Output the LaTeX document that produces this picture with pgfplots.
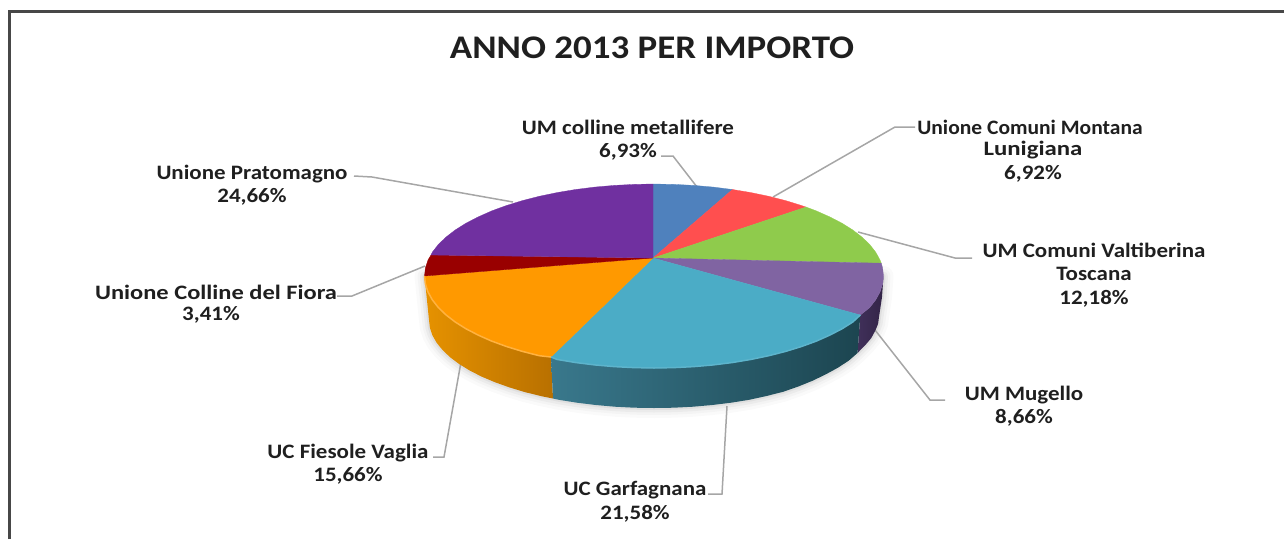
\documentclass[border=0pt]{standalone}
\usepackage{pgfplots}
\pgfplotsset{compat=1.18}
\usepackage{pgfplotstable}
\usepackage{fontspec}
\setmainfont{Carlito}
\definecolor{cblue}{HTML}{4F81BD}
\definecolor{cred}{HTML}{FF4F4F}
\definecolor{cgreen}{HTML}{8FCB4C}
\definecolor{cviol}{HTML}{8064A2}
\definecolor{cteal}{HTML}{4BACC6}
\definecolor{corange}{HTML}{FF9900}
\definecolor{cdark}{HTML}{990000}
\definecolor{cpurp}{HTML}{7030A0}
\definecolor{leader}{HTML}{A6A6A6}
\definecolor{labeltext}{HTML}{1F1F1F}
\definecolor{tealL}{HTML}{39788C}
\definecolor{tealM}{HTML}{235462}
\definecolor{tealR}{HTML}{1C4550}
\definecolor{orL}{HTML}{E69200}
\definecolor{orM}{HTML}{D88A00}
\definecolor{orR}{HTML}{B87000}
\definecolor{vioL}{HTML}{40305A}
\definecolor{vioR}{HTML}{332447}
\tikzset{lab/.style={font=\fontsize{20.5}{21}\selectfont\bfseries,text=labeltext,align=center,inner sep=0pt,xscale=1.12,transform shape}}
\pgfplotstableread{
x y
424.5 276
429 320
429.9 327.7
432.4 335.3
436.7 342.8
442.6 350.1
450.1 357.2
459.1 364
469.7 370.5
481.6 376.6
494.9 382.2
509.4 387.4
524.9 392.1
541.5 396.2
558.9 399.8
577 402.7
595.8 405
614.9 406.7
634.4 407.7
654 408
673.6 407.7
693.1 406.7
712.2 405
731 402.7
749.1 399.8
766.5 396
783.1 391.8
798.6 386.4
813.1 380.5
826.4 374
838.3 367.5
848.9 360.5
857.5 353
865.4 345
871.3 338
875.6 330
878.1 323.7
879 317
882 297
883.5 276
}\silhouette
\pgfplotstableread{
x y
860.3 315
852.8 322
842 328.8
829.8 335.1
816.3 341.1
801.5 346.5
785.6 351.4
768.8 355.7
751 359.4
732.5 362.5
713.4 364.9
693.8 366.6
674 367.6
654 368
634 367.6
614.2 366.6
594.6 364.9
575.5 362.5
557 359.4
551 357
}\rimteal
\pgfplotstableread{
x y
551 357
539.2 355.7
522.4 351.4
506.5 346.5
491.7 341.1
478.2 335.1
466 328.8
455.2 322
446 314.9
438.3 307.5
432.3 299.8
428 292
425.4 284
424.5 276
}\rimorange
\begin{document}
\begin{tikzpicture}
\path[use as bounding box] (0,0) rectangle (1284pt,539pt);
\begin{axis}[
  at={(0,0)},anchor=south west,
  scale only axis,width=1284pt,height=539pt,
  xmin=0,xmax=1284,ymin=0,ymax=539,y dir=reverse,
  axis lines=none,clip=false,
]
% frame
\addplot[draw=black!72,line width=2.2pt] coordinates {(9.5,539) (9.5,11.5) (1284,11.5)};
% soft shadow
\addplot[draw=black,opacity=0.02,line width=20pt,line join=round,line cap=round] table {\silhouette};
\addplot[draw=black,opacity=0.025,line width=14pt,line join=round,line cap=round] table {\silhouette};
\addplot[draw=black,opacity=0.035,line width=9pt,line join=round,line cap=round] table {\silhouette};
\addplot[draw=black,opacity=0.05,line width=4pt,line join=round,line cap=round] table {\silhouette};
% leaders
\addplot[draw=leader,line width=1.5pt] coordinates {(661,156) (673,156) (697,187)};
\addplot[draw=leader,line width=1.5pt] coordinates {(915,127) (895,127) (773,197)};
\addplot[draw=leader,line width=1.5pt] coordinates {(972,258) (955,258) (858,232)};
\addplot[draw=leader,line width=1.5pt] coordinates {(945,400) (930,400) (875,330)};
\addplot[draw=leader,line width=1.5pt] coordinates {(727,406) (722,494) (708,494)};
\addplot[draw=leader,line width=1.5pt] coordinates {(461,362) (444,457) (433,457)};
\addplot[draw=leader,line width=1.5pt] coordinates {(337,296) (352,296) (425,266)};
\addplot[draw=leader,line width=1.5pt] coordinates {(354,176) (372,177) (513,202)};
% sides
\addplot[draw=none,left color=vioL,right color=vioR] coordinates {
(860.3,315) (869.7,307.5) (875.7,299.8) (880,292) (882.6,284) (883.5,276) (882,297) (879,317)
(878.1,323.7) (875.6,330) (871.3,338) (865.4,345) (857.5,353)};
\addplot[draw=none,left color=orL,middle color=orM,right color=orR] coordinates {
(551,357) (539.2,355.7) (522.4,351.4) (506.5,346.5) (491.7,341.1) (478.2,335.1) (466,328.8) (455.2,322)
(446,314.9) (438.3,307.5) (432.3,299.8) (428,292) (425.4,284) (424.5,276) (429,320) (429.9,327.7)
(432.4,335.3) (436.7,342.8) (442.6,350.1) (450.1,357.2) (459.1,364) (469.7,370.5) (481.6,376.6)
(494.9,382.2) (509.4,387.4) (524.9,392.1) (541.5,396.2) (553,398.5)};
\addplot[draw=none,left color=tealL,middle color=tealM,right color=tealR] coordinates {
(551,357) (557,359.4) (575.5,362.5) (594.6,364.9) (614.2,366.6) (634,367.6) (654,368) (674,367.6)
(693.8,366.6) (713.4,364.9) (732.5,362.5) (751,359.4) (768.8,355.7) (785.6,351.4) (801.5,346.5)
(816.3,341.1) (829.8,335.1) (842,328.8) (852.8,322) (860.3,315) (857.5,353) (848.9,360.5) (838.3,367.5)
(826.4,374) (813.1,380.5) (798.6,386.4) (783.1,391.8) (766.5,396) (749.1,399.8) (731,402.7) (712.2,405)
(693.1,406.7) (673.6,407.7) (654,408) (634.4,407.7) (614.9,406.7) (595.8,405) (577,402.7) (558.9,399.8) (553,398.5)};
% top face
\addplot[fill=cblue,draw=cblue,line width=0.3pt] coordinates {(653,258) (653,184) (674,184.4) (693.8,185.4) (713.4,187.1) (732.5,189.5)} --cycle;
\addplot[fill=cred,draw=cred,line width=0.3pt] coordinates {(653,258) (732.5,189.5) (751,192.6) (768.8,196.3) (785.6,200.6) (801.5,205.5) (806,207)} --cycle;
\addplot[fill=cgreen,draw=cgreen,line width=0.3pt] coordinates {(653,258) (806,207) (816.3,210.9) (829.8,216.9) (842,223.2) (852.8,230) (862,237.1) (869.7,244.5) (875.7,252.2) (880,260) (881.3,263.2)} --cycle;
\addplot[fill=cviol,draw=cviol,line width=0.3pt] coordinates {(653,258) (881.3,263.2) (882.6,268) (883.5,276) (882.6,284) (880,292) (875.7,299.8) (869.7,307.5) (860.3,315)} --cycle;
\addplot[fill=cteal,draw=cteal,line width=0.3pt] coordinates {(653,258) (860.3,315) (852.8,322) (842,328.8) (829.8,335.1) (816.3,341.1) (801.5,346.5) (785.6,351.4) (768.8,355.7) (751,359.4) (732.5,362.5) (713.4,364.9) (693.8,366.6) (674,367.6) (654,368) (634,367.6) (614.2,366.6) (594.6,364.9) (575.5,362.5) (557,359.4) (551,357)} --cycle;
\addplot[fill=corange,draw=corange,line width=0.3pt] coordinates {(653,258) (551,357) (539.2,355.7) (522.4,351.4) (506.5,346.5) (491.7,341.1) (478.2,335.1) (466,328.8) (455.2,322) (446,314.9) (438.3,307.5) (432.3,299.8) (428,292) (425.4,284) (424.5,276)} --cycle;
\addplot[fill=cdark,draw=cdark,line width=0.3pt] coordinates {(653,258) (424.5,276) (425.4,268) (428,260) (431,255)} --cycle;
\addplot[fill=cpurp,draw=cpurp,line width=0.3pt] coordinates {(653,258) (431,255) (432.3,252.2) (438.3,244.5) (446,237.1) (455.2,230) (466,223.2) (478.2,216.9) (491.7,210.9) (506.5,205.5) (522.4,200.6) (539.2,196.3) (557,192.6) (575.5,189.5) (594.6,187.1) (614.2,185.4) (634,184.4) (653,184)} --cycle;
% rim highlights
\addplot[draw=cteal!90!white,line width=1.5pt] table {\rimteal};
\addplot[draw=corange!75!white,line width=1.5pt] table {\rimorange};
% text
\node[lab,font=\fontsize{33}{36}\selectfont\bfseries] at (axis cs:652,48) {ANNO 2013 PER IMPORTO};
\node[lab] at (axis cs:628,140) {UM colline metallifere\\[2.5pt]6,93\%};
\node[lab,xscale=0.938] at (axis cs:1030,127) {Unione Comuni Montana};
\node[lab,xscale=1.08] at (axis cs:1033,150) {Lunigiana};
\node[lab] at (axis cs:1033,174) {6,92\%};
\node[lab] at (axis cs:1094,275) {UM Comuni Valtiberina\\[2.5pt]Toscana\\[2.5pt]12,18\%};
\node[lab] at (axis cs:1024,406) {UM Mugello\\[2.5pt]8,66\%};
\node[lab] at (axis cs:635,502) {UC Garfagnana\\[2.5pt]21,58\%};
\node[lab] at (axis cs:348,464) {UC Fiesole Vaglia\\[2.5pt]15,66\%};
\node[lab,xscale=1.065] at (axis cs:216,292) {Unione Colline del Fiora};
\node[lab] at (axis cs:211,315) {3,41\%};
\node[lab] at (axis cs:252,185) {Unione Pratomagno\\[2.5pt]24,66\%};
\end{axis}
\end{tikzpicture}
\end{document}
